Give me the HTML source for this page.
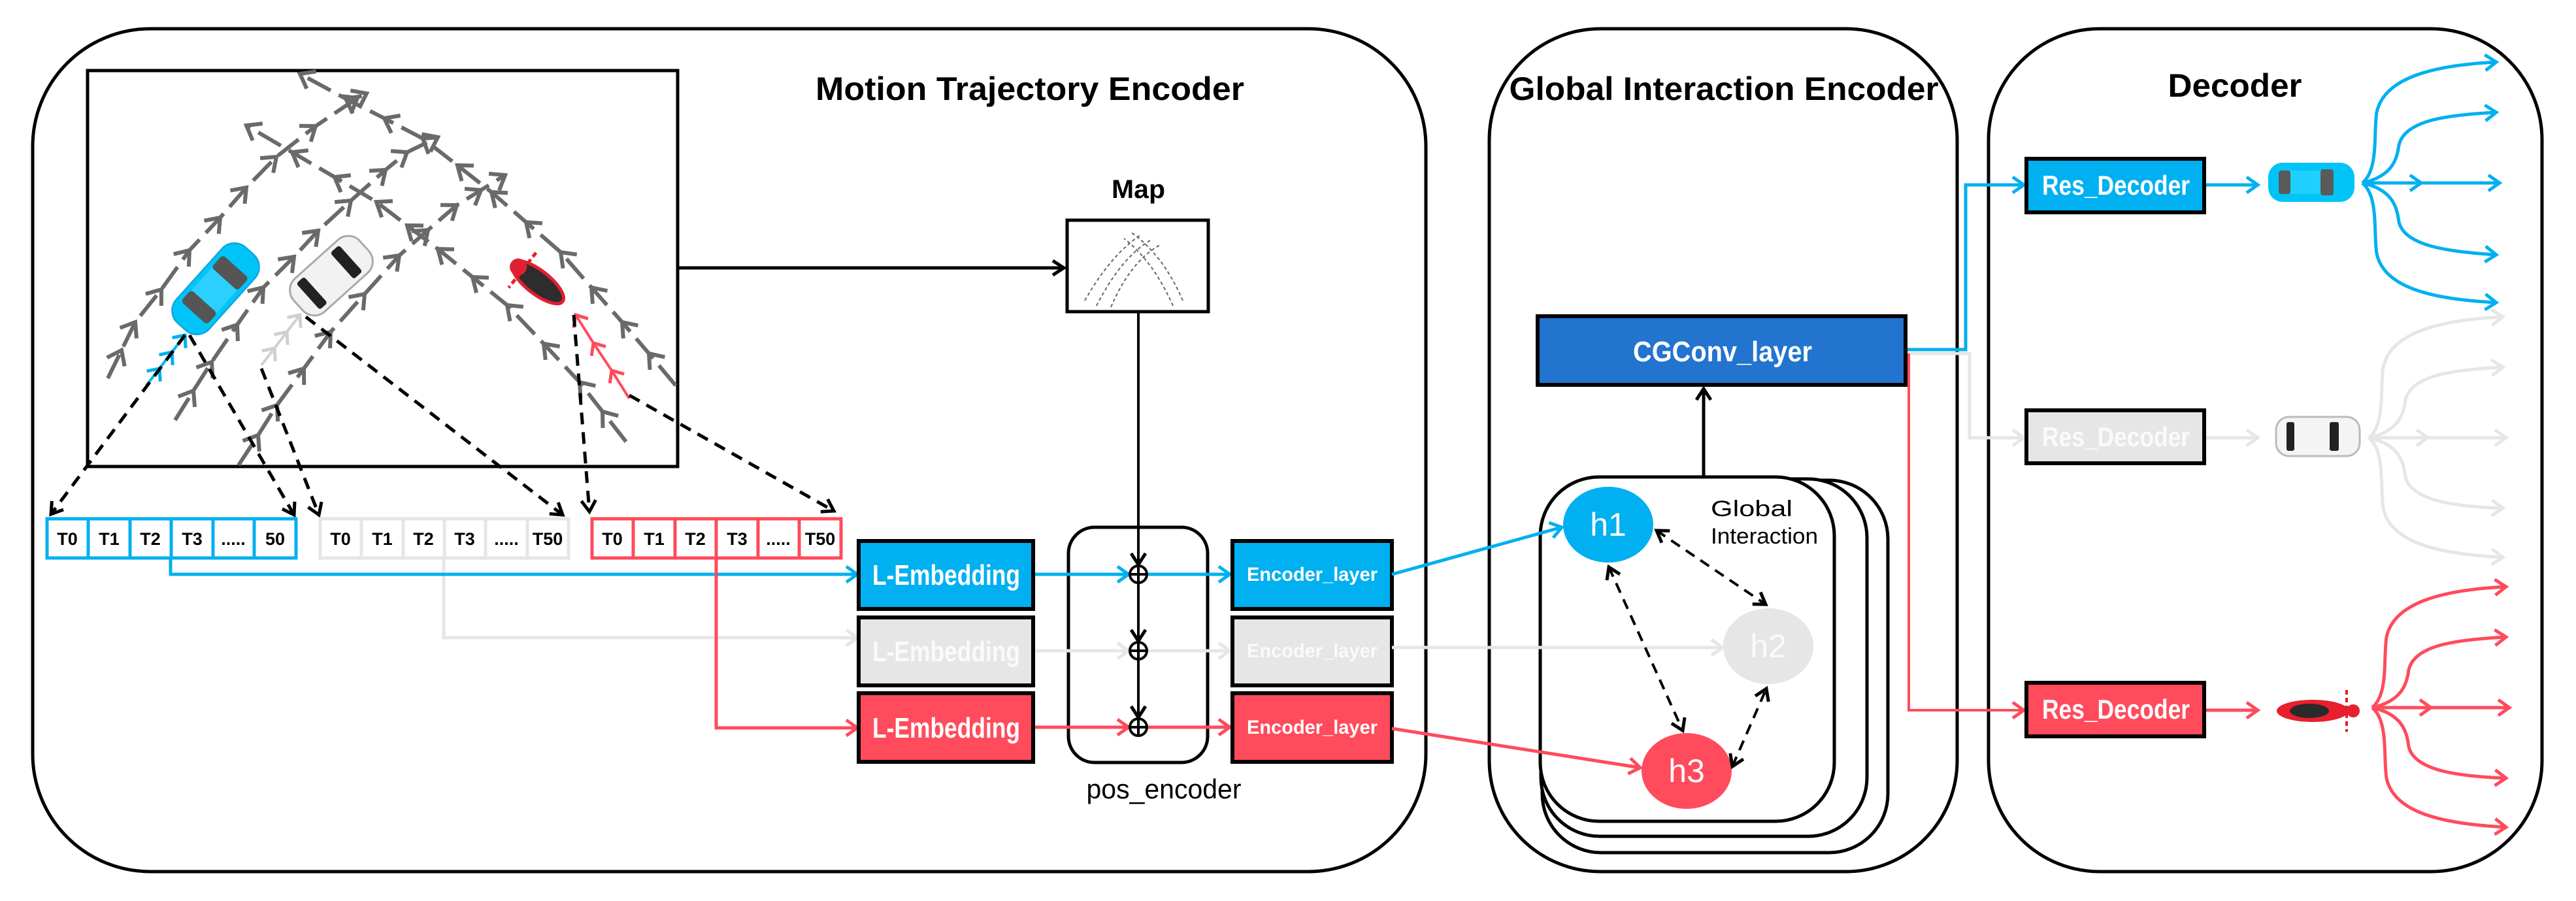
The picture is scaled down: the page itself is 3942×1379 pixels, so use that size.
<!DOCTYPE html>
<html><head><meta charset="utf-8"><style>
html,body{margin:0;padding:0;background:#fff}
svg{display:block}
text{font-family:"Liberation Sans",sans-serif}
</style></head><body>
<svg width="3942" height="1379" viewBox="0 0 3942 1379" xmlns="http://www.w3.org/2000/svg">
<defs>
<marker id="gch" markerUnits="userSpaceOnUse" markerWidth="50" markerHeight="50" viewBox="-25 -25 50 50" refX="0" refY="0" orient="auto"><path d="M-20,-15 L0,0 L-20,15" fill="none" stroke="#6a6a6a" stroke-width="6"/></marker>
<marker id="bch" markerUnits="userSpaceOnUse" markerWidth="40" markerHeight="40" viewBox="-20 -20 40 40" refX="0" refY="0" orient="auto"><path d="M-15,-13 L0,0 L-15,13" fill="none" stroke="#00b0f0" stroke-width="5"/></marker>
<marker id="lch" markerUnits="userSpaceOnUse" markerWidth="40" markerHeight="40" viewBox="-20 -20 40 40" refX="0" refY="0" orient="auto"><path d="M-15,-13 L0,0 L-15,13" fill="none" stroke="#d0d0d0" stroke-width="5"/></marker>
<marker id="rch" markerUnits="userSpaceOnUse" markerWidth="40" markerHeight="40" viewBox="-20 -20 40 40" refX="0" refY="0" orient="auto"><path d="M-15,-13 L0,0 L-15,13" fill="none" stroke="#ff4b5c" stroke-width="5"/></marker>
<marker id="ba" markerUnits="userSpaceOnUse" markerWidth="40" markerHeight="40" viewBox="-20 -20 40 40" refX="0" refY="0" orient="auto"><path d="M-17,-12 L0,0 L-17,12" fill="none" stroke="#00b0f0" stroke-width="5"/></marker>
<marker id="la" markerUnits="userSpaceOnUse" markerWidth="40" markerHeight="40" viewBox="-20 -20 40 40" refX="0" refY="0" orient="auto"><path d="M-17,-12 L0,0 L-17,12" fill="none" stroke="#e6e6e6" stroke-width="5"/></marker>
<marker id="ra" markerUnits="userSpaceOnUse" markerWidth="40" markerHeight="40" viewBox="-20 -20 40 40" refX="0" refY="0" orient="auto"><path d="M-17,-12 L0,0 L-17,12" fill="none" stroke="#ff4b5c" stroke-width="5"/></marker>
<marker id="ka" markerUnits="userSpaceOnUse" markerWidth="40" markerHeight="40" viewBox="-20 -20 40 40" refX="0" refY="0" orient="auto"><path d="M-17,-11 L0,0 L-17,11" fill="none" stroke="#000" stroke-width="5"/></marker>
<marker id="ks" markerUnits="userSpaceOnUse" markerWidth="40" markerHeight="40" viewBox="-20 -20 40 40" refX="0" refY="0" orient="auto-start-reverse"><path d="M-17,-11 L0,0 L-17,11" fill="none" stroke="#000" stroke-width="5"/></marker>
</defs>

<!-- outer boxes -->
<rect x="50" y="44" width="2132" height="1290" rx="180" fill="none" stroke="#000" stroke-width="5"/>
<rect x="2279" y="44" width="716" height="1290" rx="170" fill="none" stroke="#000" stroke-width="5"/>
<rect x="3043" y="44" width="847" height="1290" rx="170" fill="none" stroke="#000" stroke-width="5"/>

<text x="1576" y="153" font-size="50" font-weight="bold" text-anchor="middle" textLength="656" lengthAdjust="spacingAndGlyphs">Motion Trajectory Encoder</text>
<text x="2638" y="153" font-size="50" font-weight="bold" text-anchor="middle" textLength="657" lengthAdjust="spacingAndGlyphs">Global Interaction Encoder</text>
<text x="3420" y="148" font-size="50" font-weight="bold" text-anchor="middle" textLength="205" lengthAdjust="spacingAndGlyphs">Decoder</text>

<!-- scene image -->
<rect x="134" y="108" width="903" height="606" fill="#fff" stroke="#000" stroke-width="5"/>
<g fill="none" stroke="#6a6a6a" stroke-width="6" stroke-dasharray="40 14" marker-mid="url(#gch)" marker-end="url(#gch)">
<polyline points="165,579 186,536 207,493 247,443 290,383 337,333 377,287 423,240 483,193 547,150 561,143"/>
<polyline points="268,643 296,598 324,554 363,497 403,440 450,393 487,353 537,307 590,260 623,233 670,210"/>
<polyline points="365,712 395,666 424,620 465,564 506,508 558,450 611,391 655,352 699,314 736,291 773,268"/>
<polyline points="1034,590 993,541 952,493 905,440 858,386 805,340 752,294 700,253 647,212 588,181 529,151 459,113"/>
<polyline points="958,676 922,630 887,585 832,526 776,467 723,424 670,381 623,345 576,309 512,271 447,233 377,192"/>
</g>
<polyline points="224,590 244,564 263,539 283,513" fill="none" stroke="#00b0f0" stroke-width="4" marker-mid="url(#bch)" marker-end="url(#bch)"/>
<polyline points="400,559 420,533 439,508 459,482" fill="none" stroke="#d0d0d0" stroke-width="4" marker-mid="url(#lch)" marker-end="url(#lch)"/>
<polyline points="963,610 936,567 908,525 881,482" fill="none" stroke="#ff4b5c" stroke-width="4" marker-mid="url(#rch)" marker-end="url(#rch)"/>

<!-- cars in scene -->
<g transform="translate(330,442) rotate(-48)">
<rect x="-78" y="-34" width="156" height="68" rx="26" fill="#00c4f8" stroke="#0aa0d8" stroke-width="2"/>
<rect x="-50" y="-27" width="24" height="54" rx="6" fill="#555"/>
<rect x="20" y="-27" width="26" height="54" rx="6" fill="#555"/>
<rect x="-26" y="-26" width="46" height="52" fill="#2cd0ff"/>
</g>
<g transform="translate(507,422) rotate(-42)">
<rect x="-68" y="-34" width="136" height="68" rx="24" fill="#f2f2f2" stroke="#aaa" stroke-width="3"/>
<rect x="-48" y="-27" width="16" height="54" rx="4" fill="#222"/>
<rect x="22" y="-27" width="18" height="54" rx="4" fill="#222"/>
</g>
<g transform="translate(823,432) rotate(38)">
<ellipse cx="0" cy="0" rx="48" ry="18" fill="#2d2d2d" stroke="#e02030" stroke-width="5"/>
<line x1="-30" y1="-34" x2="-30" y2="34" stroke="#e02030" stroke-width="5" stroke-dasharray="8 5"/>
<circle cx="-38" cy="0" r="13" fill="#e02030"/>
</g>

<!-- dashed black connectors -->
<g fill="none" stroke="#000" stroke-width="5" stroke-dasharray="18 12" marker-end="url(#ka)">
<path d="M283,513 L78,787"/>
<path d="M290,513 L450,788"/>
<path d="M400,564 L488,788"/>
<path d="M468,485 L861,788"/>
<path d="M878,482 L902,783"/>
<path d="M963,605 L1276,782"/>
</g>

<!-- token rows -->
<g font-size="27" font-weight="bold" text-anchor="middle">
<g stroke="#00b0f0" stroke-width="5" fill="#fff">
<rect x="72" y="794" width="381" height="60"/>
<line x1="135" y1="794" x2="135" y2="854"/><line x1="199" y1="794" x2="199" y2="854"/><line x1="262" y1="794" x2="262" y2="854"/><line x1="326" y1="794" x2="326" y2="854"/><line x1="389" y1="794" x2="389" y2="854"/>
</g>
<text x="103" y="834">T0</text><text x="167" y="834">T1</text><text x="230" y="834">T2</text><text x="294" y="834">T3</text><text x="357" y="834">.....</text><text x="421" y="834">50</text>
<g stroke="#e6e6e6" stroke-width="5" fill="#fff">
<rect x="490" y="794" width="380" height="60"/>
<line x1="553" y1="794" x2="553" y2="854"/><line x1="617" y1="794" x2="617" y2="854"/><line x1="680" y1="794" x2="680" y2="854"/><line x1="743" y1="794" x2="743" y2="854"/><line x1="807" y1="794" x2="807" y2="854"/>
</g>
<text x="521" y="834">T0</text><text x="585" y="834">T1</text><text x="648" y="834">T2</text><text x="711" y="834">T3</text><text x="775" y="834">.....</text><text x="838" y="834">T50</text>
<g stroke="#ff4b5c" stroke-width="5" fill="#fff">
<rect x="906" y="794" width="381" height="60"/>
<line x1="969" y1="794" x2="969" y2="854"/><line x1="1033" y1="794" x2="1033" y2="854"/><line x1="1096" y1="794" x2="1096" y2="854"/><line x1="1160" y1="794" x2="1160" y2="854"/><line x1="1223" y1="794" x2="1223" y2="854"/>
</g>
<text x="937" y="834">T0</text><text x="1001" y="834">T1</text><text x="1064" y="834">T2</text><text x="1128" y="834">T3</text><text x="1191" y="834">.....</text><text x="1255" y="834">T50</text>
</g>

<!-- token to L-Embedding lines -->
<polyline points="679,856 679,976 1312,976" fill="none" stroke="#e6e6e6" stroke-width="5" marker-end="url(#la)"/>
<polyline points="261,856 261,879 1312,879" fill="none" stroke="#00b0f0" stroke-width="5" marker-end="url(#ba)"/>
<polyline points="1096,856 1096,1114 1312,1114" fill="none" stroke="#ff4b5c" stroke-width="5" marker-end="url(#ra)"/>

<!-- Map -->
<text x="1742" y="303" font-size="40" font-weight="bold" text-anchor="middle" textLength="82" lengthAdjust="spacingAndGlyphs">Map</text>
<rect x="1633" y="337" width="216" height="140" fill="#fff" stroke="#000" stroke-width="5"/>
<g fill="none" stroke="#666" stroke-width="2" stroke-dasharray="5 4">
<path d="M1660,460 Q1700,390 1745,360"/><path d="M1678,468 Q1715,395 1760,368"/><path d="M1700,470 Q1730,400 1775,375"/>
<path d="M1810,460 Q1780,390 1730,355"/><path d="M1795,468 Q1765,400 1720,365"/>
</g>
<line x1="1037" y1="410" x2="1628" y2="410" stroke="#000" stroke-width="5" marker-end="url(#ka)"/>

<!-- pos encoder -->
<rect x="1635" y="807" width="213" height="360" rx="40" fill="none" stroke="#000" stroke-width="5"/>
<text x="1781" y="1222" font-size="42" text-anchor="middle" textLength="237" lengthAdjust="spacingAndGlyphs">pos_encoder</text>
<line x1="1742" y1="477" x2="1742" y2="864" stroke="#000" stroke-width="4" marker-end="url(#ka)"/>
<line x1="1742" y1="892" x2="1742" y2="981" stroke="#000" stroke-width="4" marker-end="url(#ka)"/>
<line x1="1742" y1="1009" x2="1742" y2="1098" stroke="#000" stroke-width="4" marker-end="url(#ka)"/>

<!-- L-Embedding -->
<rect x="1314" y="828" width="267" height="104" fill="#00b0f0" stroke="#000" stroke-width="6"/>
<rect x="1314" y="945" width="267" height="104" fill="#e6e6e6" stroke="#000" stroke-width="6"/>
<rect x="1314" y="1061" width="267" height="105" fill="#ff4b5c" stroke="#000" stroke-width="6"/>
<g font-size="44" font-weight="bold" fill="#fff" text-anchor="middle">
<text x="1448" y="895" textLength="226" lengthAdjust="spacingAndGlyphs">L-Embedding</text>
<text x="1448" y="1012" textLength="226" lengthAdjust="spacingAndGlyphs" fill="#fafafa">L-Embedding</text>
<text x="1448" y="1129" textLength="226" lengthAdjust="spacingAndGlyphs">L-Embedding</text>
</g>

<!-- emb to plus to encoder -->
<line x1="1584" y1="879" x2="1727" y2="879" stroke="#00b0f0" stroke-width="5" marker-end="url(#ba)"/>
<line x1="1756" y1="879" x2="1882" y2="879" stroke="#00b0f0" stroke-width="5" marker-end="url(#ba)"/>
<line x1="1584" y1="996" x2="1727" y2="996" stroke="#e6e6e6" stroke-width="5" marker-end="url(#la)"/>
<line x1="1756" y1="996" x2="1882" y2="996" stroke="#e6e6e6" stroke-width="5" marker-end="url(#la)"/>
<line x1="1584" y1="1113" x2="1727" y2="1113" stroke="#ff4b5c" stroke-width="5" marker-end="url(#ra)"/>
<line x1="1756" y1="1113" x2="1882" y2="1113" stroke="#ff4b5c" stroke-width="5" marker-end="url(#ra)"/>
<g fill="#fff" stroke="#000" stroke-width="4">
<circle cx="1742" cy="879" r="13"/><circle cx="1742" cy="996" r="13"/><circle cx="1742" cy="1113" r="13"/>
</g>
<g stroke="#000" stroke-width="4">
<line x1="1729" y1="879" x2="1755" y2="879"/><line x1="1742" y1="866" x2="1742" y2="892"/>
<line x1="1729" y1="996" x2="1755" y2="996"/><line x1="1742" y1="983" x2="1742" y2="1009"/>
<line x1="1729" y1="1113" x2="1755" y2="1113"/><line x1="1742" y1="1100" x2="1742" y2="1126"/>
</g>

<!-- Encoder layers -->
<rect x="1886" y="828" width="244" height="104" fill="#00b0f0" stroke="#000" stroke-width="6"/>
<rect x="1886" y="945" width="244" height="104" fill="#e6e6e6" stroke="#000" stroke-width="6"/>
<rect x="1886" y="1061" width="244" height="105" fill="#ff4b5c" stroke="#000" stroke-width="6"/>
<g font-size="30" font-weight="bold" fill="#fff" text-anchor="middle">
<text x="2008" y="889" textLength="200" lengthAdjust="spacingAndGlyphs">Encoder_layer</text>
<text x="2008" y="1006" textLength="200" lengthAdjust="spacingAndGlyphs" fill="#fafafa">Encoder_layer</text>
<text x="2008" y="1123" textLength="200" lengthAdjust="spacingAndGlyphs">Encoder_layer</text>
</g>

<!-- Global interaction stack -->
<rect x="2360" y="735" width="529" height="570" rx="90" fill="#fff" stroke="#000" stroke-width="5"/>
<rect x="2358" y="733" width="499" height="547" rx="90" fill="#fff" stroke="#000" stroke-width="5"/>
<rect x="2357" y="730" width="450" height="527" rx="90" fill="#fff" stroke="#000" stroke-width="5"/>
<text x="2618" y="790" font-size="34" textLength="125" lengthAdjust="spacingAndGlyphs">Global</text>
<text x="2618" y="832" font-size="34" textLength="164" lengthAdjust="spacingAndGlyphs">Interaction</text>

<line x1="2130" y1="991" x2="2636" y2="991" stroke="#e6e6e6" stroke-width="5" marker-end="url(#la)"/>
<line x1="2130" y1="879" x2="2390" y2="807" stroke="#00b0f0" stroke-width="5" marker-end="url(#ba)"/>
<line x1="2130" y1="1115" x2="2510" y2="1175" stroke="#ff4b5c" stroke-width="5" marker-end="url(#ra)"/>

<ellipse cx="2461" cy="803" rx="69" ry="58" fill="#00b0f0"/>
<ellipse cx="2706" cy="989" rx="69" ry="58" fill="#e6e6e6"/>
<ellipse cx="2581" cy="1180" rx="69" ry="58" fill="#ff4b5c"/>
<g font-size="50" fill="#fff" text-anchor="middle">
<text x="2461" y="820">h1</text><text x="2706" y="1006" fill="#fafafa">h2</text><text x="2581" y="1197">h3</text>
</g>
<g fill="none" stroke="#000" stroke-width="4" stroke-dasharray="16 11" marker-start="url(#ks)" marker-end="url(#ka)">
<line x1="2535" y1="812" x2="2702" y2="925"/>
<line x1="2462" y1="868" x2="2575" y2="1118"/>
<line x1="2651" y1="1173" x2="2703" y2="1054"/>
</g>
<line x1="2607" y1="730" x2="2607" y2="595" stroke="#000" stroke-width="5" marker-end="url(#ka)"/>

<!-- CGConv -->
<rect x="2353" y="484" width="563" height="105" fill="#2274cf" stroke="#000" stroke-width="6"/>
<text x="2636" y="553" font-size="44" font-weight="bold" fill="#fff" text-anchor="middle" textLength="274" lengthAdjust="spacingAndGlyphs">CGConv_layer</text>

<polyline points="2919,541 3014,541 3014,670 3097,670" fill="none" stroke="#e6e6e6" stroke-width="5" marker-end="url(#la)"/>
<polyline points="2919,535 3008,535 3008,283 3097,283" fill="none" stroke="#00b0f0" stroke-width="5" marker-end="url(#ba)"/>
<polyline points="2921,541 2921,1087 3097,1087" fill="none" stroke="#ff4b5c" stroke-width="4" marker-end="url(#ra)"/>

<!-- Res decoders -->
<rect x="3101" y="243" width="272" height="82" fill="#00b0f0" stroke="#000" stroke-width="6"/>
<rect x="3101" y="628" width="272" height="81" fill="#e6e6e6" stroke="#000" stroke-width="6"/>
<rect x="3101" y="1045" width="272" height="82" fill="#ff4b5c" stroke="#000" stroke-width="6"/>
<g font-size="42" font-weight="bold" fill="#fff" text-anchor="middle">
<text x="3238" y="298" textLength="226" lengthAdjust="spacingAndGlyphs">Res_Decoder</text>
<text x="3238" y="683" textLength="226" lengthAdjust="spacingAndGlyphs" fill="#fafafa">Res_Decoder</text>
<text x="3238" y="1100" textLength="226" lengthAdjust="spacingAndGlyphs">Res_Decoder</text>
</g>
<line x1="3376" y1="283" x2="3455" y2="283" stroke="#00b0f0" stroke-width="5" marker-end="url(#ba)"/>
<line x1="3376" y1="670" x2="3455" y2="670" stroke="#e6e6e6" stroke-width="5" marker-end="url(#la)"/>
<line x1="3376" y1="1087" x2="3455" y2="1087" stroke="#ff4b5c" stroke-width="5" marker-end="url(#ra)"/>

<!-- decoder vehicles -->
<g transform="translate(3537,279)">
<rect x="-66" y="-30" width="132" height="60" rx="22" fill="#00c4f8"/>
<rect x="-50" y="-18" width="18" height="36" rx="4" fill="#5a5a5a"/>
<rect x="14" y="-20" width="20" height="40" rx="4" fill="#5a5a5a"/>
<rect x="-32" y="-18" width="46" height="36" fill="#1fd0ff"/>
</g>
<g transform="translate(3547,668)">
<rect x="-64" y="-30" width="128" height="60" rx="20" fill="#f4f4f4" stroke="#bbb" stroke-width="3"/>
<rect x="-48" y="-22" width="12" height="44" rx="3" fill="#222"/>
<rect x="18" y="-22" width="14" height="44" rx="3" fill="#222"/>
</g>
<g transform="translate(3549,1088)">
<ellipse cx="-10" cy="0" rx="55" ry="17" fill="#e8202e"/>
<ellipse cx="-15" cy="0" rx="30" ry="11" fill="#2a2a2a"/>
<line x1="42" y1="-32" x2="42" y2="32" stroke="#e02030" stroke-width="4" stroke-dasharray="7 5"/>
<circle cx="52" cy="0" r="10" fill="#e8202e"/>
</g>

<!-- fans -->
<g fill="none" stroke="#00b0f0" stroke-width="5" marker-end="url(#ba)">
<path d="M3615,280 C3640,260 3632,205 3637,172 C3648,120 3720,100 3820,95"/>
<path d="M3615,280 C3660,270 3668,245 3671,222 C3680,185 3740,176 3820,172"/>
<path d="M3615,280 L3705,280"/><path d="M3705,280 L3825,280"/>
<path d="M3615,280 C3660,290 3668,315 3671,340 C3680,375 3740,385 3820,390"/>
<path d="M3615,280 C3640,300 3632,355 3637,388 C3648,440 3720,458 3820,463"/>
</g>
<g fill="none" stroke="#e6e6e6" stroke-width="5" marker-end="url(#la)">
<path d="M3625,670 C3650,650 3642,595 3647,562 C3658,510 3730,490 3830,485"/>
<path d="M3625,670 C3670,660 3678,635 3681,612 C3690,575 3750,566 3830,562"/>
<path d="M3625,670 L3715,670"/><path d="M3715,670 L3835,670"/>
<path d="M3625,670 C3670,680 3678,705 3681,730 C3690,765 3750,775 3830,778"/>
<path d="M3625,670 C3650,690 3642,745 3647,778 C3658,830 3730,848 3830,853"/>
</g>
<g fill="none" stroke="#ff4b5c" stroke-width="5" marker-end="url(#ra)">
<path d="M3630,1083 C3655,1063 3647,1008 3652,975 C3663,923 3735,903 3835,898"/>
<path d="M3630,1083 C3675,1073 3683,1048 3686,1025 C3695,988 3755,979 3835,975"/>
<path d="M3630,1083 L3720,1083"/><path d="M3720,1083 L3840,1083"/>
<path d="M3630,1083 C3675,1093 3683,1118 3686,1143 C3695,1178 3755,1188 3835,1191"/>
<path d="M3630,1083 C3655,1103 3647,1158 3652,1191 C3663,1243 3735,1261 3835,1266"/>
</g>
</svg>
</body></html>
